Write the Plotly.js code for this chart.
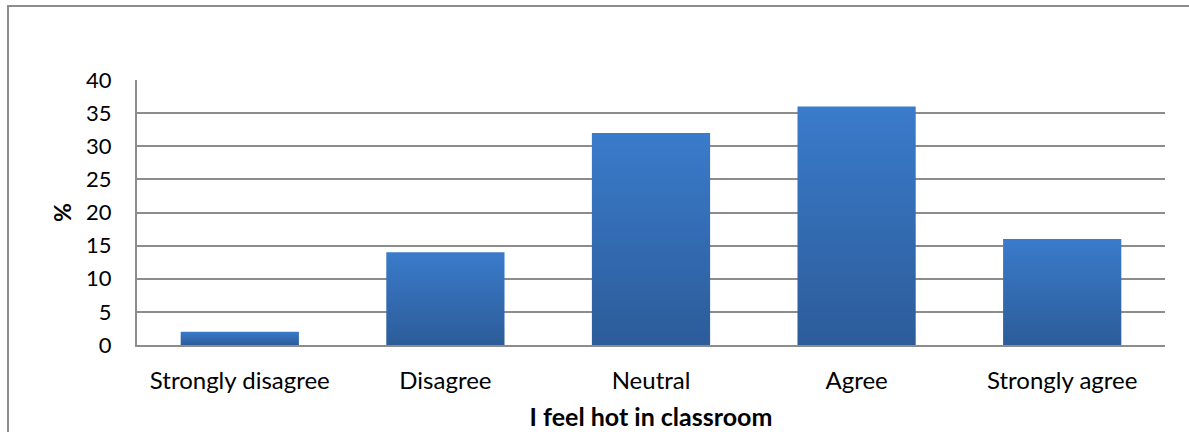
<!DOCTYPE html>
<html><head><meta charset="utf-8">
<script src="https://cdn.plot.ly/plotly-3.0.1.min.js"></script>
<style>
html,body{margin:0;padding:0;background:#fff;}
#wrap{position:relative;width:1189px;height:432px;overflow:hidden;}
#frame{position:absolute;left:7px;top:5px;width:1200px;height:460px;border-left:2px solid #8c8c8c;border-top:2px solid #8c8c8c;pointer-events:none;}
#chart{position:absolute;left:0;top:0;width:1189px;height:432px;}
</style></head>
<body><div id="wrap"><div id="chart"></div><div id="frame"></div></div>
<script>
const categories = ["Strongly disagree","Disagree","Neutral","Agree","Strongly agree"];
const percents = [2, 14, 32, 36, 16];
const yTicks = [0,5,10,15,20,25,30,35,40];
const xTitle = "I feel hot in classroom";
const yTitle = "%";

const font = "Lato, 'Open Sans', sans-serif";
Plotly.newPlot("chart", [{
  type: "bar", x: categories, y: percents,
  marker: {color: "#3470ba", line: {width: 0}},
  hoverinfo: "skip"
}], {
  width: 1189, height: 432,
  margin: {l: 137, r: 24, t: 80, b: 87},
  paper_bgcolor: "rgba(0,0,0,0)", plot_bgcolor: "#fff",
  bargap: 0.425,
  showlegend: false,
  font: {family: font, size: 24, color: "#000"},
  xaxis: {
    showgrid: false, showline: true, linecolor: "#8c8c8c", linewidth: 2,
    ticks: "", ticklabelstandoff: 13,
    tickfont: {size: 24, family: font},
    title: {text: "<b>" + xTitle + "</b>", font: {size: 25, family: font}, standoff: 16}
  },
  yaxis: {
    range: [0, 40], tickvals: yTicks, ticktext: yTicks.map(String),
    showgrid: true, gridcolor: "#8c8c8c", gridwidth: 2,
    showline: true, linecolor: "#8c8c8c", linewidth: 2,
    zeroline: false, ticks: "", ticklabelstandoff: 19,
    tickfont: {size: 22, family: font},
    title: {text: "<b>" + yTitle + "</b>", font: {size: 23, family: font}, standoff: 8}
  }
}, {staticPlot: true, displayModeBar: false}).then(function(gd){
  const svg = gd.querySelector(".main-svg");
  const ns = "http://www.w3.org/2000/svg";
  const defs = document.createElementNS(ns, "defs");
  const lg = document.createElementNS(ns, "linearGradient");
  lg.setAttribute("id", "barGrad");
  lg.setAttribute("x1", "0"); lg.setAttribute("y1", "0");
  lg.setAttribute("x2", "0"); lg.setAttribute("y2", "1");
  [["0", "#3a7bcb"], ["1", "#2c5c99"]].forEach(function(s){
    const st = document.createElementNS(ns, "stop");
    st.setAttribute("offset", s[0]); st.setAttribute("stop-color", s[1]);
    lg.appendChild(st);
  });
  defs.appendChild(lg);
  svg.insertBefore(defs, svg.firstChild);
  gd.querySelectorAll(".bars .point path").forEach(function(p){
    p.style.fill = "url(#barGrad)";
  });
});
</script></body></html>
